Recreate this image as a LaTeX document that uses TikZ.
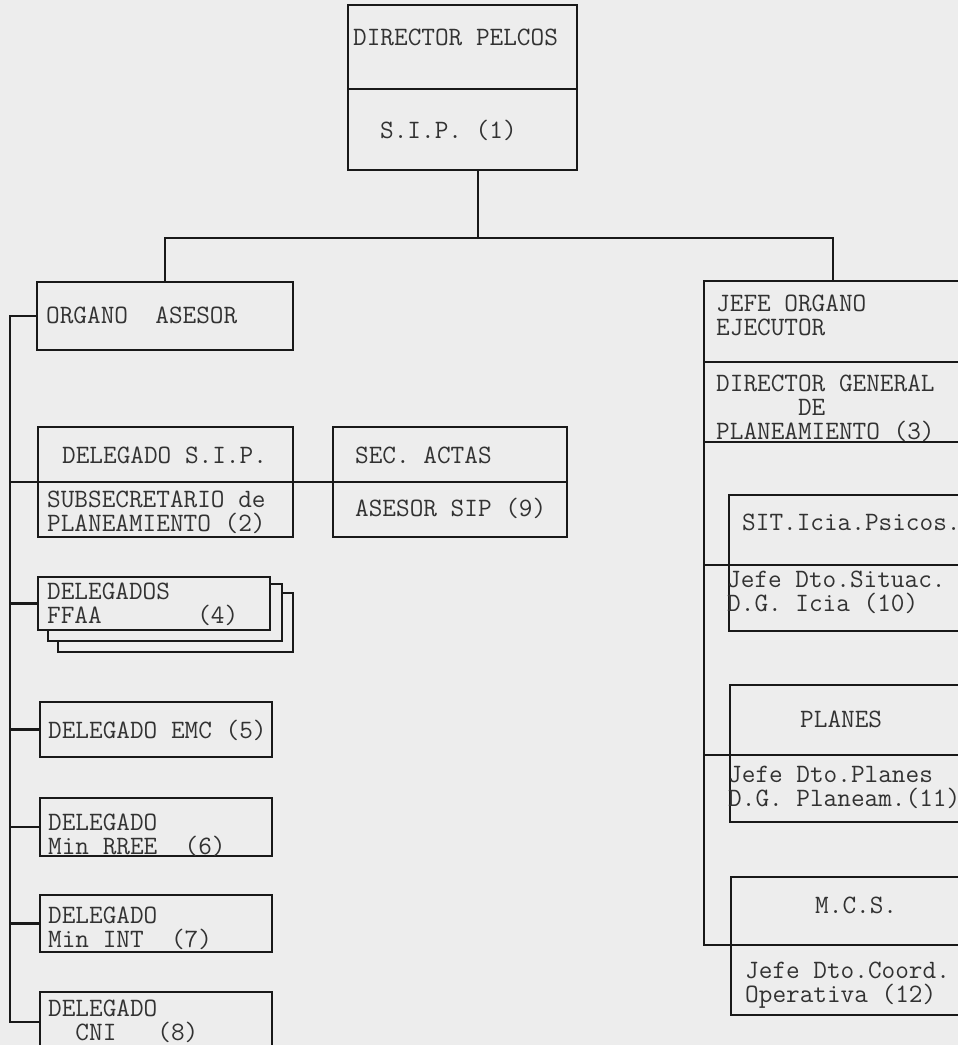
\documentclass[tikz,border=0pt]{standalone}
\usetikzlibrary{positioning,calc}
\definecolor{paper}{RGB}{237,237,237}
\definecolor{ink}{RGB}{25,25,25}
\definecolor{typed}{RGB}{50,50,50}

\begin{document}
\begin{tikzpicture}[
    x=1pt, y=-1pt,
    every node/.style={font=\ttfamily\fontsize{26.5}{24}\selectfont, text=typed},
    part/.style={rectangle, draw=ink, line width=2.8pt, fill=paper, inner sep=0pt, outer sep=0pt, anchor=north west},
    txt/.style={anchor=west, align=left, inner sep=0pt},
    line/.style={draw=ink, line width=2.1pt}
]

\useasboundingbox (0,0) rectangle (958,1045);
\fill[paper] (0,0) rectangle (958,1045);
\clip (0,0) rectangle (958,1045);

% Top - director
\node[part, minimum width=229pt, minimum height=84pt] (pelcos) at (348,5) {};
\node[part, minimum width=229pt, minimum height=81pt] (sip) at (348,89) {};

% Left column - organo asesor
\node[part, minimum width=256pt, minimum height=68pt] (organo) at (37,282) {};
\node[part, minimum width=255pt, minimum height=55pt] (delsip) at (38,427) {};
\node[part, minimum width=255pt, minimum height=55pt] (subsec) at (38,482) {};
\node[part, minimum width=234pt, minimum height=55pt] (actas) at (333,427) {};
\node[part, minimum width=234pt, minimum height=55pt] (asesor) at (333,482) {};

% Delegados FFAA (stacked)
\node[part, minimum width=235pt, minimum height=59pt] (ffaac) at (58,593) {};
\node[part, minimum width=234pt, minimum height=57pt] (ffaab) at (48,584) {};
\node[part, minimum width=232pt, minimum height=53pt] (ffaa) at (38,577) {};

\node[part, minimum width=232pt, minimum height=55pt] (emc) at (40,702) {};
\node[part, minimum width=232pt, minimum height=58pt] (rree) at (40,798) {};
\node[part, minimum width=232pt, minimum height=57pt] (mint) at (40,895) {};
\node[part, minimum width=232pt, minimum height=60pt] (cni) at (40,992) {};

% Right column - organo ejecutor
\node[part, minimum width=258pt, minimum height=81pt] (jefe) at (704,281) {};
\node[part, minimum width=258pt, minimum height=80pt] (dgp) at (704,362) {};
\node[part, minimum width=233pt, minimum height=70pt] (sit) at (729,495) {};
\node[part, minimum width=233pt, minimum height=66pt] (situac) at (729,565) {};
\node[part, minimum width=232pt, minimum height=70pt] (planes) at (730,685) {};
\node[part, minimum width=232pt, minimum height=67pt] (jplanes) at (730,755) {};
\node[part, minimum width=231pt, minimum height=68pt] (mcs) at (731,877) {};
\node[part, minimum width=231pt, minimum height=70pt] (coord) at (731,945) {};

% Connectors
\coordinate (trunk) at (478,238);
\coordinate (spine) at (10,313);
\draw[line] (sip.south -| trunk) -- (trunk);
\draw[line] (organo.north) |- (trunk) -| (jefe.north);

\draw[line] (organo.west) -- (organo.west -| spine) |- (cni.west);
\draw[line] (spine |- delsip.south) -- (actas.south west);
\draw[line] (ffaa.west -| spine) -- (ffaa.west);
\draw[line] (emc.west -| spine) -- (emc.west);
\draw[line] (rree.west -| spine) -- (rree.west);
\draw[line] (mint.west -| spine) -- (mint.west);

\draw[line] (dgp.south west) |- (mcs.south west);
\draw[line] (dgp.south west |- sit.south west) -- (sit.south west);
\draw[line] (dgp.south west |- planes.south west) -- (planes.south west);

% Texts
\node[txt] (t-pelcos) at (353,37) {DIRECTOR PELCOS};
\node[txt] (t-sip) at (380,130) {S.I.P. (1)};
\node[txt] (t-organo) at (46,315) {ORGANO\ \ ASESOR};
\node[txt] (t-delsip) at (62,455) {DELEGADO S.I.P.};
\node[txt] (t-subsec) at (47,512) {SUBSECRETARIO de\\PLANEAMIENTO (2)};
\node[txt] (t-actas) at (355,455) {SEC. ACTAS};
\node[txt] (t-asesor) at (355,508) {ASESOR SIP (9)};
\node[txt] (t-ffaa) at (47,604) {DELEGADOS\\FFAA\ \ \ \ \ \ \ (4)};
\node[txt] (t-emc) at (48,730) {DELEGADO EMC (5)};
\node[txt] (t-rree) at (48,835) {DELEGADO\\Min RREE\ \ (6)};
\node[txt] (t-mint) at (48,928) {DELEGADO\\Min INT\ \ (7)};
\node[txt] (t-cni) at (48,1021) {DELEGADO\\\ \ CNI\ \ \ (8)};

\node[txt] (t-jefe) at (716,315) {JEFE ORGANO\\EJECUTOR};
\node[txt] (t-dgp) at (716,408) {DIRECTOR GENERAL\\\ \ \ \ \ \ DE\\PLANEAMIENTO (3)};
\node[txt] (t-sit) at (742,522) {SIT.Icia.Psicos.};
\node[txt] (t-situac) at (727,592) {Jefe Dto.Situac.\\D.G. Icia (10)};
\node[txt] (t-planes) at (800,719) {PLANES};
\node[txt] (t-jplanes) at (728,787) {Jefe Dto.Planes\\D.G. Planeam.(11)};
\node[txt] (t-mcs) at (815,905) {M.C.S.};
\node[txt] (t-coord) at (745,985) {Jefe Dto.Coord.\\Operativa (12)};

\end{tikzpicture}
\end{document}
